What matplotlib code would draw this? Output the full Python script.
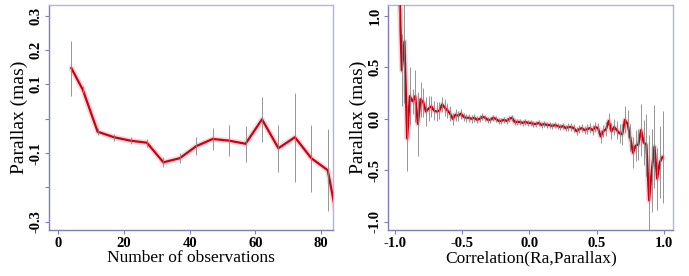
import matplotlib
matplotlib.use("Agg")
import matplotlib.pyplot as plt

plt.rcParams['font.family'] = ['Liberation Serif', 'DejaVu Serif']

# left panel: parallax vs number of observations
n_obs = [4, 7.5, 12, 17, 22, 27, 32, 37, 42, 47, 52, 57, 62, 67, 72, 77, 82, 87]
plx_obs = [0.147, 0.084, -0.038, -0.054, -0.064, -0.070, -0.127, -0.115, -0.080,
           -0.059, -0.064, -0.073, -0.002, -0.086, -0.054, -0.115, -0.150, -0.40]
err_obs = [0.08, 0.01, 0.01, 0.01, 0.01, 0.012, 0.015, 0.015, 0.027,
           0.033, 0.046, 0.052, 0.066, 0.068, 0.13, 0.097, 0.12, 0.2]

# right panel: parallax vs correlation(Ra, Parallax)
corr = [-0.97, -0.95, -0.93, -0.91, -0.89, -0.87, -0.85, -0.83, -0.81, -0.79,
        -0.77, -0.75, -0.73, -0.71, -0.69, -0.67, -0.65, -0.63, -0.61, -0.59,
        -0.57, -0.55, -0.53, -0.51, -0.49, -0.47, -0.45, -0.43, -0.41, -0.39,
        -0.37, -0.35, -0.33, -0.31, -0.29, -0.27, -0.25, -0.23, -0.21, -0.19,
        -0.17, -0.15, -0.13, -0.11, -0.09, -0.07, -0.05, -0.03, -0.01, 0.01,
        0.03, 0.05, 0.07, 0.09, 0.11, 0.13, 0.15, 0.17, 0.19, 0.21,
        0.23, 0.25, 0.27, 0.29, 0.31, 0.33, 0.35, 0.37, 0.39, 0.41,
        0.43, 0.45, 0.47, 0.49, 0.51, 0.53, 0.55, 0.57, 0.59, 0.61,
        0.63, 0.65, 0.67, 0.69, 0.71, 0.73, 0.75, 0.77, 0.79, 0.81,
        0.83, 0.85, 0.87, 0.89, 0.91, 0.93, 0.95, 0.97, 0.99]
plx_corr = [1.35, 0.47, 0.75, -0.19, 0.22, 0.17, 0.22, -0.05, 0.19, 0.16,
            0.07, 0.10, 0.12, 0.08, 0.07, 0.08, 0.14, 0.11, 0.08, 0.05,
            0.00, 0.04, 0.03, 0.05, 0.02, 0.01, 0.01, 0.00, 0.01, -0.01,
            0.00, 0.02, 0.01, -0.01, -0.01, 0.01, 0.00, -0.02, -0.02, -0.01,
            -0.02, 0.00, 0.01, -0.03, -0.03, -0.03, -0.04, -0.03, -0.04, -0.04,
            -0.05, -0.05, -0.04, -0.06, -0.05, -0.06, -0.06, -0.07, -0.06, -0.07,
            -0.08, -0.07, -0.09, -0.08, -0.08, -0.09, -0.12, -0.10, -0.09, -0.11,
            -0.10, -0.09, -0.11, -0.08, -0.09, -0.17, -0.12, -0.10, -0.02, -0.12,
            -0.08, -0.11, -0.14, -0.15, -0.01, -0.05, -0.18, -0.33, -0.26, -0.25,
            -0.11, -0.23, -0.25, -0.79, -0.50, -0.27, -0.58, -0.42, -0.37]
err_corr = [0.50, 0.35, 0.60, 0.32, 0.28, 0.12, 0.25, 0.31, 0.17, 0.14,
            0.14, 0.12, 0.10, 0.09, 0.09, 0.08, 0.07, 0.08, 0.07, 0.07,
            0.06, 0.06, 0.05, 0.05, 0.04, 0.04, 0.04, 0.04, 0.04, 0.035,
            0.035, 0.035, 0.03, 0.03, 0.03, 0.03, 0.03, 0.03, 0.03, 0.03,
            0.03, 0.03, 0.03, 0.03, 0.03, 0.03, 0.03, 0.03, 0.03, 0.03,
            0.03, 0.03, 0.03, 0.03, 0.03, 0.03, 0.03, 0.03, 0.03, 0.03,
            0.03, 0.03, 0.03, 0.035, 0.035, 0.035, 0.04, 0.04, 0.04, 0.04,
            0.045, 0.045, 0.05, 0.05, 0.05, 0.06, 0.06, 0.07, 0.08, 0.08,
            0.08, 0.09, 0.09, 0.10, 0.13, 0.14, 0.13, 0.15, 0.15, 0.15,
            0.25, 0.22, 0.30, 0.63, 0.40, 0.40, 0.30, 0.35, 0.45]

red = '#cc0012'
frame_dark = '#7e7ebd'
frame_light = '#b4b4dc'

fig = plt.figure(figsize=(6.89, 2.76), dpi=100)
ax1 = fig.add_axes([0.0711, 0.1667, 0.4122, 0.8153])
ax2 = fig.add_axes([0.5636, 0.1667, 0.4136, 0.8153])


def style(ax):
    for side in ['left', 'bottom']:
        ax.spines[side].set_color(frame_dark)
    for side in ['top', 'right']:
        ax.spines[side].set_color(frame_light)
    for sp in ax.spines.values():
        sp.set_linewidth(1.0)
    ax.tick_params(direction='out', length=3, width=0.8, color=frame_dark,
                   labelsize=10.5, pad=2)
    for lab in ax.get_xticklabels() + ax.get_yticklabels():
        lab.set_fontweight('bold')


def draw(ax, x, y, e):
    ax.plot(x, y, color='#f08a90', lw=4, alpha=0.35, solid_capstyle='round', zorder=2)
    ax.plot(x, y, color=red, lw=1.6, zorder=3)
    ax.errorbar(x, y, yerr=e, fmt='none', ecolor='#858585', elinewidth=0.6,
                capsize=0, zorder=4)


draw(ax1, n_obs, plx_obs, err_obs)
ax1.set_xlim(-2.8, 83.6)
ax1.set_ylim(-0.324, 0.331)
ax1.set_xticks([0, 20, 40, 60, 80])
ax1.set_yticks([-0.3, -0.2, -0.1, 0.0, 0.1, 0.2, 0.3])
ax1.set_yticklabels(['-0.3', '', '-0.1', '', '0.1', '0.2', '0.3'],
                    rotation=90, va='center')
ax1.set_xlabel('Number of observations', fontsize=12.5, labelpad=0)
ax1.set_ylabel('Parallax (mas)', fontsize=14, labelpad=1)
style(ax1)

draw(ax2, corr, plx_corr, err_corr)
ax2.set_xlim(-1.05, 1.07)
ax2.set_ylim(-1.078, 1.104)
ax2.set_xticks([-1.0, -0.5, 0.0, 0.5, 1.0])
ax2.set_xticklabels(['-1.0', '-0.5', '0.0', '0.5', '1.0'])
ax2.set_yticks([-1.0, -0.5, 0.0, 0.5, 1.0])
ax2.set_yticklabels(['-1.0', '-0.5', '0.0', '0.5', '1.0'], rotation=90, va='center')
ax2.set_xlabel('Correlation(Ra,Parallax)', fontsize=12.5, labelpad=0)
ax2.set_ylabel('Parallax (mas)', fontsize=14, labelpad=1)
style(ax2)

fig.savefig('out.png', dpi=100)
